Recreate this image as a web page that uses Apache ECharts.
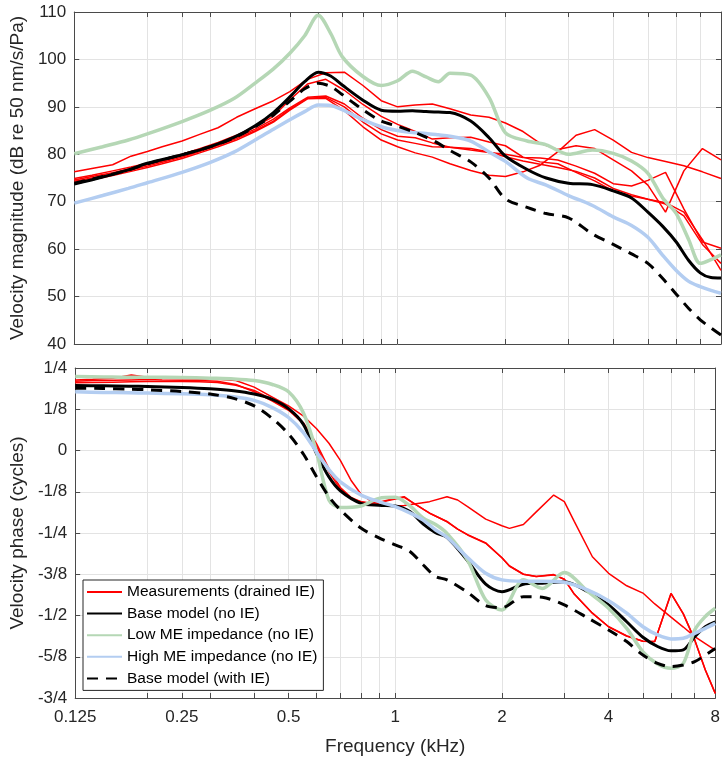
<!DOCTYPE html>
<html><head><meta charset="utf-8">
<script src="https://cdn.jsdelivr.net/npm/echarts@6/dist/echarts.min.js"></script>
<style>html,body{margin:0;padding:0;background:#fff}#c{width:723px;height:758px}</style>
</head><body><div id="c"></div><script>
// ---- axis ticks ----
const xTickValues = [0.125, 0.25, 0.5, 1, 2, 4, 8];
const xTickLabels = ['0.125', '0.25', '0.5', '1', '2', '4', '8'];
const xGridValues = [0.125, 0.2, 0.25, 0.3, 0.4, 0.5, 0.6, 0.7, 0.8, 0.9, 1, 2, 3, 4, 5, 6, 7, 8];
const phaseTickValues = [-0.75, -0.625, -0.5, -0.375, -0.25, -0.125, 0, 0.125, 0.25];
const phaseTickLabels = ['-3/4', '-5/8', '-1/2', '-3/8', '-1/4', '-1/8', '0', '1/8', '1/4'];
const seriesNames = ['Measurements (drained IE)', 'Base model (no IE)', 'Low ME impedance (no IE)', 'High ME impedance (no IE)', 'Base model (with IE)'];

// ---- model frequencies (kHz) ----
const modelFreq = [0.125,0.15,0.177,0.2,0.25,0.3,0.35,0.4,0.45,0.5,0.55,0.6,0.65,0.7,0.8,0.9,1,1.1,1.2,1.3,1.4,1.6,1.8,2,2.3,2.6,3,3.5,4,4.5,5,5.5,6,6.5,7,7.5,8];
// magnitude (dB)
const baseMag = [73.7,75.2,76.7,78.1,79.9,81.6,83.6,86.0,88.8,92.1,95.3,97.3,96.5,94.6,91.4,89.3,89.1,89.2,89.0,88.9,88.8,87.0,83.5,79.6,76.8,75.0,73.9,73.6,72.3,70.8,67.8,64.8,61.5,57.6,55.0,54.0,53.9];
const lowMag = [80.1,81.6,83.0,84.3,86.9,89.3,91.8,95.0,98.0,101.3,105.0,109.3,105.5,100.6,96.4,94.5,95.5,97.5,96.3,95.3,97.1,96.7,92.0,84.5,82.8,82.0,80.0,80.9,80.2,78.6,76.0,70.8,67.5,62.0,57.0,57.8,58.8];
const highMag = [69.7,71.3,72.8,74.0,76.2,78.3,80.5,83.0,85.3,87.3,89.0,90.4,90.3,89.4,87.3,85.8,85.0,84.6,84.4,84.1,83.8,82.8,80.5,78.5,75.0,73.5,71.3,69.2,66.8,65.0,62.5,58.7,55.5,53.2,52.1,51.3,50.7];
const ieMag = [73.9,75.3,76.7,78.0,79.9,81.6,83.5,85.8,88.3,91.2,93.8,95.0,94.3,92.6,89.4,87.0,85.9,84.8,83.6,82.3,80.8,78.4,75.0,70.6,68.8,67.5,66.6,63.2,61.0,59.0,57.0,53.8,50.5,47.5,45.1,43.4,41.9];
// phase (cycles)
const basePhase = [0.197,0.196,0.195,0.194,0.191,0.187,0.181,0.171,0.155,0.127,0.08,-0.01,-0.08,-0.122,-0.16,-0.166,-0.168,-0.185,-0.223,-0.249,-0.263,-0.334,-0.405,-0.428,-0.405,-0.402,-0.398,-0.428,-0.468,-0.519,-0.566,-0.594,-0.607,-0.604,-0.564,-0.534,-0.519];
const lowPhase = [0.224,0.223,0.222,0.222,0.221,0.219,0.217,0.212,0.2,0.178,0.115,-0.005,-0.15,-0.173,-0.168,-0.145,-0.142,-0.168,-0.205,-0.224,-0.251,-0.332,-0.453,-0.483,-0.392,-0.418,-0.37,-0.428,-0.478,-0.539,-0.61,-0.647,-0.66,-0.645,-0.544,-0.503,-0.478];
const highPhase = [0.178,0.176,0.175,0.174,0.172,0.169,0.163,0.152,0.13,0.1,0.055,-0.005,-0.058,-0.095,-0.135,-0.155,-0.17,-0.189,-0.211,-0.241,-0.263,-0.324,-0.372,-0.392,-0.396,-0.396,-0.399,-0.423,-0.455,-0.493,-0.534,-0.559,-0.571,-0.569,-0.554,-0.539,-0.524];
const iePhase = [0.189,0.188,0.186,0.184,0.179,0.171,0.158,0.135,0.097,0.05,-0.01,-0.08,-0.14,-0.18,-0.235,-0.265,-0.286,-0.306,-0.347,-0.382,-0.392,-0.43,-0.47,-0.476,-0.443,-0.445,-0.468,-0.508,-0.544,-0.579,-0.62,-0.645,-0.655,-0.65,-0.64,-0.62,-0.6];

// ---- measurement frequencies (kHz) ----
const measFreq = [0.125,0.14,0.16,0.18,0.2,0.22,0.25,0.28,0.315,0.355,0.4,0.45,0.5,0.56,0.63,0.71,0.8,0.9,1,1.12,1.25,1.4,1.6,1.8,2,2.24,2.5,2.8,3.15,3.55,4,4.5,5,5.6,6.3,7.1,8];
const measMag1 = [76.3,77.0,77.8,79.6,80.6,81.6,82.8,84.2,85.6,87.8,89.6,91.3,93.2,95.8,97.2,97.3,94.5,91.3,90.0,90.4,90.6,89.6,88.3,87.8,86.6,84.8,82.3,81.0,81.8,81.2,78.8,76.5,73.5,67.8,76.5,81.2,78.8];
const measMag2 = [74.9,75.6,76.5,77.3,78.1,78.9,80.0,81.2,82.5,84.0,85.8,88.0,91.5,94.8,95.8,93.5,90.5,88.0,86.3,84.8,83.2,83.5,83.6,82.6,81.8,79.4,78.4,78.0,76.2,74.4,72.3,71.2,70.5,69.8,67.8,62.0,55.5];
const measMag3 = [74.6,75.3,76.1,77.0,77.8,78.6,79.7,80.9,82.2,83.6,85.3,87.4,89.8,92.0,92.3,90.6,87.6,85.2,83.8,83.5,82.4,81.5,80.9,80.4,80.0,79.3,79.2,78.8,77.5,76.0,73.8,73.3,74.5,76.2,68.5,61.5,60.2];
const measMag4 = [74.3,75.0,75.8,76.7,77.5,78.3,79.4,80.6,81.9,83.3,85.0,87.0,89.5,91.8,92.0,90.0,86.8,84.3,83.0,82.3,81.6,81.5,81.2,80.5,79.5,78.6,77.9,77.2,76.4,75.0,72.8,71.5,70.5,69.5,67.0,61.0,57.0];
const measMag5 = [74.0,74.7,75.5,76.4,77.2,78.0,79.1,80.3,81.6,83.0,84.8,86.8,89.3,91.7,91.8,89.2,85.8,83.0,81.6,80.3,79.4,78.0,76.6,75.6,75.3,76.3,77.7,80.5,84.0,85.2,83.0,80.4,79.3,78.5,77.6,76.3,74.9];

const phaseFreq = [0.125,0.14,0.16,0.18,0.2,0.22,0.25,0.28,0.315,0.355,0.4,0.45,0.5,0.55,0.6,0.65,0.7,0.75,0.8,0.85,0.9,1,1.06,1.12,1.25,1.4,1.5,1.6,1.8,2,2.1,2.3,2.5,2.8,3,3.2,3.6,4,4.5,5,5.4,6,6.5,7,7.5,8];
const measPhase1 = [0.214,0.216,0.219,0.229,0.222,0.219,0.218,0.217,0.216,0.212,0.192,0.162,0.135,0.105,0.066,0.022,-0.03,-0.09,-0.132,-0.152,-0.162,-0.168,-0.167,-0.163,-0.155,-0.14,-0.15,-0.17,-0.208,-0.228,-0.236,-0.224,-0.186,-0.135,-0.155,-0.215,-0.322,-0.372,-0.41,-0.432,-0.465,-0.505,-0.535,-0.564,-0.585,-0.605];
const measPhase2 = [0.21,0.212,0.213,0.214,0.215,0.214,0.213,0.212,0.21,0.2,0.178,0.15,0.122,0.082,0.012,-0.065,-0.118,-0.145,-0.155,-0.16,-0.157,-0.145,-0.14,-0.158,-0.19,-0.215,-0.238,-0.255,-0.28,-0.325,-0.35,-0.375,-0.382,-0.376,-0.39,-0.435,-0.493,-0.534,-0.562,-0.578,-0.579,-0.433,-0.495,-0.574,-0.665,-0.736];
const measPhase3 = [0.205,0.206,0.207,0.208,0.209,0.209,0.209,0.208,0.206,0.198,0.182,0.155,0.125,0.085,0.02,-0.055,-0.112,-0.142,-0.155,-0.16,-0.158,-0.147,-0.142,-0.158,-0.19,-0.216,-0.238,-0.256,-0.281,-0.325,-0.35,-0.375,-0.382,-0.377,-0.39,-0.435,-0.493,-0.534,-0.562,-0.578,-0.579,-0.433,-0.495,-0.574,-0.665,-0.736];

// ---- helpers ----
const FONT = 'Liberation Sans, Arial, Helvetica, sans-serif';
const TXT = '#262626';
const AXC = '#4a4a4a';
const GRIDC = '#e3e3e3';
const pairs = (fx, ys) => fx.map((f, i) => [f, ys[i]]);
const nearestLabel = (v, vals, labs) => {
  let best = 0, d = Infinity;
  vals.forEach((t, i) => { const e = Math.abs(t - v); if (e < d) { d = e; best = i; } });
  return d < 1e-6 ? labs[best] : '';
};

function xAx(gridIndex, position, withLabels, withName) {
  return {
    type: 'log', logBase: 2, min: 0.125, max: 8, gridIndex, position,
    axisLine: { show: true, onZero: false, lineStyle: { color: AXC, width: 1 } },
    axisTick: { show: true, inside: true, length: 5, customValues: xGridValues, lineStyle: { color: AXC, width: 1 } },
    axisLabel: {
      show: withLabels, customValues: xTickValues, margin: 11,
      fontSize: 17, color: TXT, fontFamily: FONT,
      formatter: v => nearestLabel(v, xTickValues, xTickLabels)
    },
    splitLine: { show: position === 'bottom', lineStyle: { color: GRIDC, width: 1 } },
    minorTick: { show: false }, minorSplitLine: { show: false },
    name: withName ? 'Frequency (kHz)' : '', nameLocation: 'middle', nameGap: 39,
    nameTextStyle: { fontSize: 19, color: TXT, fontFamily: FONT }
  };
}
function yAx(gridIndex, position, min, max, interval, formatter, name) {
  const left = position === 'left';
  return {
    type: 'value', gridIndex, position, min, max, interval,
    axisLine: { show: true, onZero: false, lineStyle: { color: AXC, width: 1 } },
    axisTick: { show: true, inside: true, length: 5, lineStyle: { color: AXC, width: 1 } },
    axisLabel: { show: left, fontSize: 17, color: TXT, fontFamily: FONT, margin: 8, formatter },
    splitLine: { show: left, lineStyle: { color: GRIDC, width: 1 } },
    name: left ? name : '', nameLocation: 'middle', nameGap: 40,
    nameTextStyle: { fontSize: 19, color: TXT, fontFamily: FONT }
  };
}

const RED = '#ff0000', BLACK = '#000000', GREEN = '#b5d7b5', BLUE = '#b3cdf1';
function line(name, gi, data, color, width, extra) {
  return Object.assign({
    type: 'line', name, xAxisIndex: gi * 2, yAxisIndex: gi * 2, data,
    symbol: 'none', showSymbol: false, animation: false, clip: true,
    lineStyle: { color, width }, itemStyle: { color }
  }, extra || {});
}
const modelSmooth = { smooth: 0.3 };

const series = [];
[measMag1, measMag2, measMag3, measMag4, measMag5].forEach(m =>
  series.push(line(seriesNames[0], 0, pairs(measFreq, m), RED, 1.5, { z: 2 })));
[measPhase1, measPhase2, measPhase3].forEach(m =>
  series.push(line(seriesNames[0], 1, pairs(phaseFreq, m), RED, 1.5, { z: 2 })));
series.push(line(seriesNames[1], 0, pairs(modelFreq, baseMag), BLACK, 3, Object.assign({ z: 3 }, modelSmooth)));
series.push(line(seriesNames[1], 1, pairs(modelFreq, basePhase), BLACK, 3, Object.assign({ z: 3 }, modelSmooth)));
series.push(line(seriesNames[2], 0, pairs(modelFreq, lowMag), GREEN, 3.5, Object.assign({ z: 4 }, modelSmooth)));
series.push(line(seriesNames[2], 1, pairs(modelFreq, lowPhase), GREEN, 3.5, Object.assign({ z: 4 }, modelSmooth)));
series.push(line(seriesNames[3], 0, pairs(modelFreq, highMag), BLUE, 3.5, Object.assign({ z: 5 }, modelSmooth)));
series.push(line(seriesNames[3], 1, pairs(modelFreq, highPhase), BLUE, 3.5, Object.assign({ z: 5 }, modelSmooth)));
const dash = { type: [11, 8] };
series.push(line(seriesNames[4], 0, pairs(modelFreq, ieMag), BLACK, 3, Object.assign({ z: 6, lineStyle: Object.assign({ color: BLACK, width: 3 }, dash) }, modelSmooth)));
series.push(line(seriesNames[4], 1, pairs(modelFreq, iePhase), BLACK, 3, Object.assign({ z: 6, lineStyle: Object.assign({ color: BLACK, width: 3 }, dash) }, modelSmooth)));

const chart = echarts.init(document.getElementById('c'), null, { renderer: 'canvas' });
chart.setOption({
  backgroundColor: '#ffffff',
  animation: false,
  textStyle: { fontFamily: FONT },
  grid: [
    { left: 73, top: 12, width: 648, height: 332, containLabel: false },
    { left: 73, top: 368, width: 648, height: 330, containLabel: false }
  ],
  xAxis: [
    xAx(0, 'bottom', false, false),
    xAx(0, 'top', false, false),
    xAx(1, 'bottom', true, true),
    xAx(1, 'top', false, false)
  ],
  yAxis: [
    yAx(0, 'left', 40, 110, 10, v => String(v), 'Velocity magnitude (dB re 50 nm/s/Pa)'),
    yAx(0, 'right', 40, 110, 10, v => String(v), ''),
    yAx(1, 'left', -0.75, 0.25, 0.125, v => nearestLabel(v, phaseTickValues, phaseTickLabels), 'Velocity phase (cycles)'),
    yAx(1, 'right', -0.75, 0.25, 0.125, v => '', '')
  ],
  legend: {
    data: seriesNames, orient: 'vertical', left: 83, top: 580,
    itemWidth: 35, itemHeight: 12, itemGap: 5.6,
    padding: [4, 6, 4, 3],
    itemStyle: { opacity: 0 },
    backgroundColor: '#ffffff', borderColor: '#262626', borderWidth: 1, borderRadius: 0,
    textStyle: { fontSize: 15.5, color: '#000', fontFamily: FONT, lineHeight: 16 },
    selectedMode: false, z: 20
  },
  series
});
</script></body></html>
